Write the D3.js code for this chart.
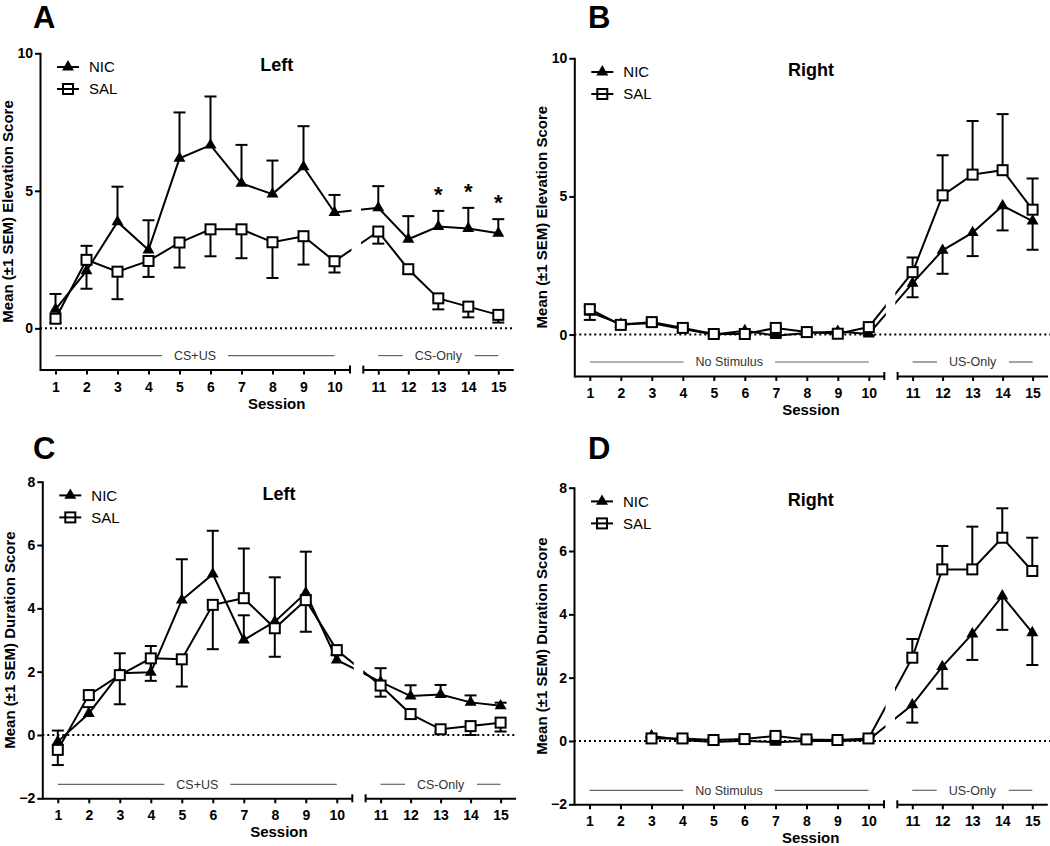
<!DOCTYPE html>
<html><head><meta charset="utf-8">
<script src="https://cdn.jsdelivr.net/npm/d3@7"></script>
<style>
body{margin:0;background:#fff}
svg{display:block}
text{font-family:Arial,"Liberation Sans",sans-serif}
</style>
</head><body>
<svg id="chart" width="1050" height="846"></svg>
<script>
// ---------------- data ----------------
const sessions = d3.range(1, 16);
const seg1Ticks = d3.range(1, 11);
const seg2Ticks = d3.range(11, 16);
const seriesNames = ["NIC", "SAL"];

// Panel A: Left, elevation score
const A_NIC     = [0.69, 2.09, 3.87, 2.85, 6.18, 6.66, 5.27, 4.88, 5.87, 4.21, 4.38, 3.24, 3.70, 3.63, 3.46];
const A_NIC_sem = [0.56, 0.91, 1.28, 1.08, 1.67, 1.77, 1.40, 1.22, 1.48, 0.64, 0.79, 0.84, 0.57, 0.75, 0.51];
const A_SAL     = [0.35, 2.49, 2.06, 2.45, 3.12, 3.60, 3.60, 3.13, 3.35, 2.44, 3.52, 2.15, 1.09, 0.79, 0.49];
const A_SAL_sem = [-0.15, -1.05, -1.00, -0.58, -0.91, -0.98, -1.05, -1.30, -1.03, -0.41, -0.44, -0.15, -0.40, -0.39, -0.28];
const A_sig = [13, 14, 15];

// Panel B: Right, elevation score
const B_NIC     = [0.81, 0.38, 0.41, 0.20, 0.00, 0.14, -0.04, 0.06, 0.11, 0.02, 1.86, 3.05, 3.69, 4.66, 4.11];
const B_NIC_sem = [-0.28, -0.10, -0.10, -0.08, -0.05, -0.06, -0.05, -0.05, -0.05, -0.05, -0.51, -0.85, -0.85, -0.89, -1.04];
const B_SAL     = [0.92, 0.35, 0.45, 0.24, 0.02, 0.02, 0.24, 0.09, 0.03, 0.27, 2.26, 5.04, 5.79, 5.95, 4.52];
const B_SAL_sem = [0.10, 0.10, 0.08, 0.08, 0.05, 0.05, 0.06, 0.05, 0.05, 0.06, 0.53, 1.45, 1.94, 2.03, 1.13];

// Panel C: Left, duration score
const C_NIC     = [-0.21, 0.68, 1.95, 1.98, 4.26, 5.08, 3.00, 3.58, 4.49, 2.37, 1.68, 1.23, 1.28, 1.03, 0.92];
const C_NIC_sem = [0.35, 0.20, 0.63, 0.83, 1.29, 1.37, 0.78, 1.40, 1.30, 0.15, 0.43, 0.34, 0.30, 0.22, 0.10];
const C_SAL     = [-0.47, 1.26, 1.89, 2.42, 2.39, 4.11, 4.32, 3.37, 4.26, 2.68, 1.56, 0.66, 0.18, 0.28, 0.39];
const C_SAL_sem = [-0.48, -0.15, -0.92, -0.71, -0.86, -1.40, 1.57, -0.90, -1.00, -0.15, -0.35, -0.15, -0.10, -0.28, -0.28];

// Panel D: Right, duration score
const D_NIC     = [null, null, 0.16, 0.03, -0.03, 0.01, -0.04, 0.00, 0.00, 0.03, 1.14, 2.35, 3.38, 4.58, 3.42];
const D_NIC_sem = [null, null, -0.05, -0.05, -0.05, -0.05, -0.05, -0.05, -0.05, -0.05, -0.56, -0.70, -0.82, -1.07, -1.02];
const D_SAL     = [null, null, 0.08, 0.08, 0.03, 0.06, 0.16, 0.05, 0.03, 0.08, 2.63, 5.42, 5.42, 6.42, 5.37];
const D_SAL_sem = [null, null, 0.05, 0.05, 0.05, 0.05, 0.05, 0.05, 0.05, 0.05, 0.59, 0.74, 1.35, 0.93, 1.05];

const elevTicks = [0, 5, 10];
const durTicks = [-2, 0, 2, 4, 6, 8];

// ---------------- drawing ----------------
const svg = d3.select("#chart");
const FONT = "Arial, 'Liberation Sans', sans-serif";

const panels = [
  {id:"A", ox:40, oy:53.3, h:316.3, dom:[-1.5,10], ticks:elevTicks, ylab:"Mean (\u00B11 SEM) Elevation Score",
   title:"Left", phases:["CS+US","CS-Only"], nic:A_NIC, nicE:A_NIC_sem, sal:A_SAL, salE:A_SAL_sem, sig:A_sig,
   lx:33, ly:28},
  {id:"B", ox:574.3, oy:58.3, h:317.7, dom:[-1.5,10], ticks:elevTicks, ylab:"Mean (\u00B11 SEM) Elevation Score",
   title:"Right", phases:["No Stimulus","US-Only"], nic:B_NIC, nicE:B_NIC_sem, sal:B_SAL, salE:B_SAL_sem, sig:[],
   lx:588, ly:28},
  {id:"C", ox:42.3, oy:481.7, h:316.6, dom:[-2,8], ticks:durTicks, ylab:"Mean (\u00B11 SEM) Duration Score",
   title:"Left", phases:["CS+US","CS-Only"], nic:C_NIC, nicE:C_NIC_sem, sal:C_SAL, salE:C_SAL_sem, sig:[],
   lx:33, ly:459},
  {id:"D", ox:574, oy:487.7, h:316.6, dom:[-2,8], ticks:durTicks, ylab:"Mean (\u00B11 SEM) Duration Score",
   title:"Right", phases:["No Stimulus","US-Only"], nic:D_NIC, nicE:D_NIC_sem, sal:D_SAL, salE:D_SAL_sem, sig:[],
   lx:588, ly:459}
];

const defs = svg.append("defs");

panels.forEach(p => {
  // panel letter
  svg.append("text").attr("x", p.lx).attr("y", p.ly)
    .attr("font-size", 31).attr("font-weight", "bold").text(p.id);

  const g = svg.append("g").attr("transform", `translate(${p.ox},${p.oy})`);
  const H = p.h;
  const x1 = d3.scaleLinear().domain([0.5, 10.5]).range([0, 310]);
  const x2 = d3.scaleLinear().domain([10.5, 15.5]).range([323.3, 473.3]);
  const x = s => s <= 10.5 ? x1(s) : x2(s);
  const y = d3.scaleLinear().domain(p.dom).range([H, 0]);
  const W = 473.3;

  // clip for the break gap
  const cp = defs.append("clipPath").attr("id", "clip" + p.id);
  cp.append("rect").attr("x", -30).attr("y", -40).attr("width", 30 + 311.5).attr("height", H + 80);
  cp.append("rect").attr("x", 321).attr("y", -40).attr("width", 200).attr("height", H + 80);

  // zero dotted line
  g.append("line").attr("x1", 0).attr("x2", p.id === "A" || p.id === "C" ? W : 1050 - p.ox)
    .attr("y1", y(0)).attr("y2", y(0))
    .attr("stroke", "#000").attr("stroke-width", 2).attr("stroke-dasharray", "2,3");

  // y axis
  const ya = g.append("g").call(d3.axisLeft(y).tickValues(p.ticks).tickFormat(d3.format("d"))
    .tickSize(5).tickPadding(2).tickSizeOuter(0));
  // x axes
  const xa1 = g.append("g").attr("transform", `translate(0,${H})`)
    .call(d3.axisBottom(x1).tickValues(seg1Ticks).tickFormat(d3.format("d")).tickSize(5).tickPadding(7).tickSizeOuter(0));
  const xa2 = g.append("g").attr("transform", `translate(0,${H})`)
    .call(d3.axisBottom(x2).tickValues(seg2Ticks).tickFormat(d3.format("d")).tickSize(5).tickPadding(7).tickSizeOuter(0));
  [ya, xa1, xa2].forEach(a => {
    a.attr("font-family", FONT).attr("font-size", 14).attr("font-weight", "bold");
    a.selectAll("path").attr("stroke-width", 2).attr("stroke", "#000");
    a.selectAll("line").attr("stroke-width", 2).attr("stroke", "#000");
    a.selectAll("text").attr("fill", "#000");
  });
  ya.select("path").attr("stroke-linecap", "square");
  // axis break marks
  [310, 323.3].forEach(bx => {
    g.append("line").attr("x1", bx).attr("x2", bx).attr("y1", H - 4).attr("y2", H + 4)
      .attr("stroke", "#000").attr("stroke-width", 2);
  });

  // axis titles
  g.append("text").attr("x", W / 2).attr("y", H + 39).attr("text-anchor", "middle")
    .attr("font-size", 15).attr("font-weight", "bold").text("Session");
  g.append("text").attr("transform", `translate(${-27},${H / 2}) rotate(-90)`)
    .attr("text-anchor", "middle").attr("font-size", 15).attr("font-weight", "bold").text(p.ylab);
  g.append("text").attr("x", W / 2).attr("y", 18).attr("text-anchor", "middle")
    .attr("font-size", 18).attr("font-weight", "bold").text(p.title);

  // phase labels
  const phaseY = H - 14;
  [[1, 10, p.phases[0]], [11, 15, p.phases[1]]].forEach(([a, b, lab]) => {
    const cx = (x(a) + x(b)) / 2;
    const t = g.append("text").attr("x", cx).attr("y", phaseY).attr("dy", "0.35em")
      .attr("text-anchor", "middle").attr("font-size", 12.5).attr("fill", "#333").text(lab);
    const bb = t.node().getBBox();
    g.append("line").attr("x1", x(a)).attr("x2", bb.x - 12).attr("y1", phaseY).attr("y2", phaseY)
      .attr("stroke", "#666").attr("stroke-width", 1.2);
    g.append("line").attr("x1", bb.x + bb.width + 12).attr("x2", x(b)).attr("y1", phaseY).attr("y2", phaseY)
      .attr("stroke", "#666").attr("stroke-width", 1.2);
  });

  // series
  const mk = (vals, errs) => sessions.map((s, i) => ({s, v: vals[i], e: errs[i]})).filter(d => d.v != null);
  const nic = mk(p.nic, p.nicE), sal = mk(p.sal, p.salE);
  const line = d3.line().x(d => x(d.s)).y(d => y(d.v));

  const data = g.append("g");
  [nic, sal].forEach(ser => {
    data.append("path").datum(ser).attr("d", line).attr("fill", "none")
      .attr("stroke", "#000").attr("stroke-width", 2).attr("clip-path", `url(#clip${p.id})`);
  });
  [nic, sal].forEach(ser => {
    const eb = data.append("g");
    ser.forEach(d => {
      const ye = y(d.v + d.e);
      eb.append("line").attr("x1", x(d.s)).attr("x2", x(d.s)).attr("y1", y(d.v)).attr("y2", ye)
        .attr("stroke", "#000").attr("stroke-width", 2);
      eb.append("line").attr("x1", x(d.s) - 6).attr("x2", x(d.s) + 6).attr("y1", ye).attr("y2", ye)
        .attr("stroke", "#000").attr("stroke-width", 2);
    });
  });
  const tri = d3.symbol().type(d3.symbolTriangle).size(62);
  data.selectAll(".tri").data(nic).enter().append("path")
    .attr("transform", d => `translate(${x(d.s)},${y(d.v)})`)
    .attr("d", tri).attr("fill", "#000");
  data.selectAll(".sq").data(sal).enter().append("rect")
    .attr("x", d => x(d.s) - 5).attr("y", d => y(d.v) - 5).attr("width", 10).attr("height", 10)
    .attr("fill", "#fff").attr("stroke", "#000").attr("stroke-width", 2);

  // significance asterisks
  nic.filter(d => p.sig.includes(d.s)).forEach(d => {
    g.append("text").attr("x", x(d.s)).attr("y", y(d.v + d.e) - 9).attr("text-anchor", "middle")
      .attr("font-size", 22).attr("font-weight", "bold").text("*");
  });

  // legend
  const lg = g.append("g");
  [["NIC", 13.7], ["SAL", 35.7]].forEach(([name, ly]) => {
    lg.append("line").attr("x1", 17).attr("x2", 39).attr("y1", ly).attr("y2", ly)
      .attr("stroke", "#000").attr("stroke-width", 2);
    if (name === "NIC") {
      lg.append("path").attr("transform", `translate(28,${ly})`).attr("d", tri).attr("fill", "#000");
    } else {
      lg.append("rect").attr("x", 23).attr("y", ly - 5).attr("width", 10).attr("height", 10)
        .attr("fill", "none").attr("stroke", "#000").attr("stroke-width", 2);
    }
    lg.append("text").attr("x", 49).attr("y", ly).attr("dy", "0.36em")
      .attr("font-size", 15).text(name);
  });
});
</script>
</body></html>
